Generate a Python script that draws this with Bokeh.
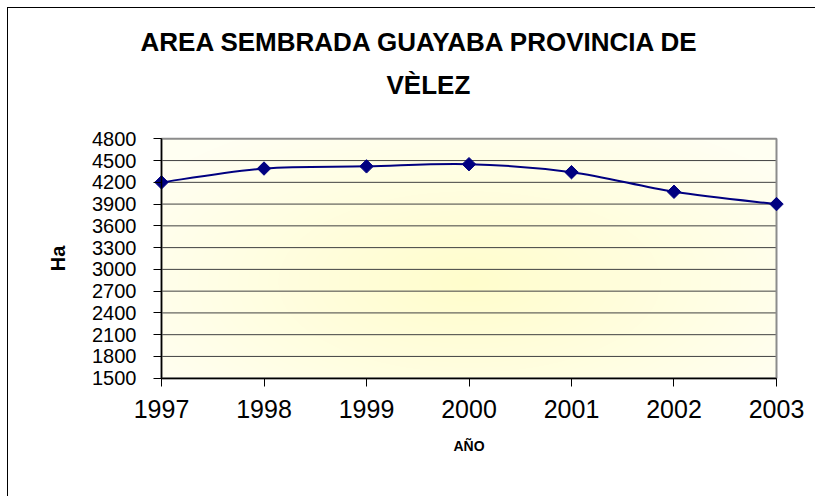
import numpy as np
from bokeh.plotting import figure
from bokeh.models import Range1d, FixedTicker, LinearAxis, Title
from bokeh.embed import file_html
from bokeh.resources import INLINE

# ---- data ----
years = [1997, 1998, 1999, 2000, 2001, 2002, 2003]
area_ha = [4200, 4390, 4420, 4450, 4340, 4070, 3900]
y_ticks = [1500, 1800, 2100, 2400, 2700, 3000, 3300, 3600, 3900, 4200, 4500, 4800]
title_lines = ["AREA SEMBRADA GUAYABA PROVINCIA DE", "VÈLEZ"]
y_label = "Ha"
x_label = "AÑO"

FONT = "Liberation Sans"
NAVY = "#000080"

x_pad = 0.0976
y_pad = 142

p = figure(width=808, height=489, output_backend="svg", toolbar_location=None,
           x_range=Range1d(years[0] - x_pad, years[-1] + x_pad),
           y_range=Range1d(y_ticks[0] - y_pad, y_ticks[-1] + y_pad),
           min_border_left=143, min_border_right=30,
           min_border_top=120, min_border_bottom=109)
p.styles = {"margin-left": "7px", "margin-top": "7px",
            "border-left": "1px solid black", "border-top": "1px solid black"}
p.background_fill_color = "white"
p.border_fill_color = "white"
p.outline_line_color = None
p.grid.visible = False

# title (two lines)
p.title.text = title_lines[0]
p.title.align = "left"
p.title.offset = -11
p.title.standoff = -35
p.title.text_font = FONT
p.title.text_font_style = "bold"
p.title.text_font_size = "26px"
p.title.text_color = "black"
t2 = Title(text=title_lines[1], align="left", offset=235, standoff=57,
           text_font=FONT, text_font_style="bold", text_font_size="26px",
           text_color="black")
p.add_layout(t2, "above")

# radial gradient background of plot area (decorative)
ny, nx = 240, 616
yy, xx = np.mgrid[0:1:ny * 1j, 0:1:nx * 1j]
d = np.clip(np.sqrt(((xx - 0.5) / 0.62) ** 2 + ((yy - 0.4) / 0.75) ** 2), 0, 1)
c0 = np.array([255, 253, 204])
c1 = np.array([255, 255, 242])
rgb = c0[None, None, :] + (c1 - c0)[None, None, :] * d[:, :, None]
img = np.empty((ny, nx), dtype=np.uint32)
view = img.view(dtype=np.uint8).reshape((ny, nx, 4))
view[:, :, 0] = rgb[:, :, 0].astype(np.uint8)
view[:, :, 1] = rgb[:, :, 1].astype(np.uint8)
view[:, :, 2] = rgb[:, :, 2].astype(np.uint8)
view[:, :, 3] = 255
p.image_rgba(image=[img], x=years[0], y=y_ticks[0],
             dw=years[-1] - years[0], dh=y_ticks[-1] - y_ticks[0])

# gridlines
inner = y_ticks[1:-1]
p.segment(x0=[years[0]] * len(inner), x1=[years[-1]] * len(inner),
          y0=inner, y1=inner, line_color="#404040", line_width=1)

# plot-area border
p.quad(left=years[0], right=years[-1], bottom=y_ticks[0], top=y_ticks[-1],
       fill_color=None, line_color="#8c8c8c", line_width=2)

# smoothed line (Bezier through the data points)
n = len(years)
px = np.array(years, dtype=float)
py = np.array(area_ha, dtype=float)
ext_x = np.concatenate([[px[0]], px, [px[-1]]])
ext_y = np.concatenate([[py[0]], py, [py[-1]]])
cx0 = px[:-1] + (ext_x[2:n + 1] - ext_x[0:n - 1]) / 6.0
cy0 = py[:-1] + (ext_y[2:n + 1] - ext_y[0:n - 1]) / 6.0
cx1 = px[1:] - (ext_x[3:n + 2] - ext_x[1:n]) / 6.0
cy1 = py[1:] - (ext_y[3:n + 2] - ext_y[1:n]) / 6.0
p.bezier(x0=px[:-1], y0=py[:-1], x1=px[1:], y1=py[1:],
         cx0=cx0, cy0=cy0, cx1=cx1, cy1=cy1, line_color=NAVY, line_width=2)

p.scatter(years, area_ha, marker="square", angle=np.pi / 4, size=9.5,
          fill_color=NAVY, line_color=NAVY)

# axes with labels only (at frame edges)
p.xaxis.ticker = FixedTicker(ticks=years)
p.xaxis.axis_line_color = None
p.xaxis.major_tick_line_color = None
p.xaxis.minor_tick_line_color = None
p.xaxis.major_tick_out = 0
p.xaxis.major_tick_in = 0
p.xaxis.major_label_standoff = 11
p.xaxis.major_label_text_font = FONT
p.xaxis.major_label_text_font_size = "25px"
p.xaxis.major_label_text_color = "black"
p.xaxis.axis_label = x_label
p.xaxis.axis_label_standoff = 17
p.xaxis.axis_label_text_font = FONT
p.xaxis.axis_label_text_font_style = "bold"
p.xaxis.axis_label_text_font_size = "14px"
p.xaxis.axis_label_text_color = "black"

p.yaxis.ticker = FixedTicker(ticks=y_ticks)
p.yaxis.axis_line_color = None
p.yaxis.major_tick_line_color = None
p.yaxis.minor_tick_line_color = None
p.yaxis.major_tick_out = 0
p.yaxis.major_tick_in = 0
p.yaxis.major_label_standoff = 15
p.yaxis.major_label_text_font = FONT
p.yaxis.major_label_text_font_size = "20px"
p.yaxis.major_label_text_color = "black"
p.yaxis.axis_label = y_label
p.yaxis.axis_label_standoff = 20
p.yaxis.axis_label_text_font = FONT
p.yaxis.axis_label_text_font_style = "bold"
p.yaxis.axis_label_text_font_size = "20px"
p.yaxis.axis_label_text_color = "black"

# axis lines and ticks at the data edges
ax_x = LinearAxis(fixed_location=y_ticks[0], bounds=(years[0], years[-1]),
                  ticker=FixedTicker(ticks=years),
                  major_label_overrides={yr: "" for yr in years},
                  major_tick_out=8, major_tick_in=0, minor_tick_line_color=None,
                  axis_line_color="black", axis_line_width=1.5,
                  major_tick_line_color="black")
p.add_layout(ax_x, "below")
ax_y = LinearAxis(fixed_location=years[0], bounds=(y_ticks[0], y_ticks[-1]),
                  ticker=FixedTicker(ticks=y_ticks),
                  major_label_overrides={t: "" for t in y_ticks},
                  major_tick_out=8, major_tick_in=0, minor_tick_line_color=None,
                  axis_line_color="black", axis_line_width=1.5,
                  major_tick_line_color="black")
p.add_layout(ax_y, "left")

open("out.html", "w").write(file_html(p, INLINE))
